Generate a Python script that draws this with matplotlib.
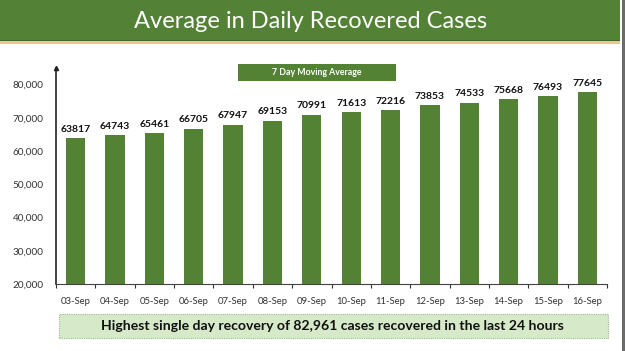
import matplotlib.pyplot as plt
import matplotlib.patches as patches
import numpy as np

# 7 day moving average of recovered cases
dates = ['03-Sep', '04-Sep', '05-Sep', '06-Sep', '07-Sep', '08-Sep', '09-Sep',
         '10-Sep', '11-Sep', '12-Sep', '13-Sep', '14-Sep', '15-Sep', '16-Sep']
avg_recovered = [63817, 64743, 65461, 66705, 67947, 69153, 70991,
                 71613, 72216, 73853, 74533, 75668, 76493, 77645]
yticks = [20000, 30000, 40000, 50000, 60000, 70000, 80000]

title = 'Average in Daily Recovered Cases'
legend_txt = '7 Day Moving Average'
note = 'Highest single day recovery of 82,961 cases recovered in the last 24 hours'

green = '#548235'
W, H = 625, 351

fig = plt.figure(figsize=(W / 100, H / 100), dpi=100)
fig.patch.set_facecolor('white')

def fx(px):
    return px / W

def fy(py):
    return 1 - py / H

# title banner
fig.patches.append(patches.Rectangle((0, fy(40)), fx(620), 40 / H, transform=fig.transFigure,
                                     facecolor='#538135', edgecolor='none'))
fig.patches.append(patches.Rectangle((0, fy(41.5)), fx(620), 1.5 / H, transform=fig.transFigure,
                                     facecolor='#3f6b28', edgecolor='none'))
fig.patches.append(patches.Rectangle((0, fy(43.5)), fx(620), 2 / H, transform=fig.transFigure,
                                     facecolor='#e6c79a', edgecolor='none'))
fig.patches.append(patches.Rectangle((fx(622), 0), fx(3), 1, transform=fig.transFigure,
                                     facecolor='#6b6b6b', edgecolor='none'))
fig.text(fx(311), fy(21), title, color='white', fontsize=17, family='Lato',
         ha='center', va='center')

# main axes
ax = fig.add_axes([fx(56), fy(284), fx(607 - 56), (284 - 68) / H])
x = np.arange(len(dates))
ax.bar(x, avg_recovered, width=0.49, color=green, zorder=2)
ax.set_xlim(-0.5, len(dates) - 0.5)
ax.set_ylim(20000, 85000)

for xi, v in zip(x, avg_recovered):
    ax.text(xi, v + 1300, str(v), ha='center', va='bottom', fontsize=7.5,
            fontweight='bold', family='Lato', color='#111111')

ax.set_yticks(yticks)
ax.set_yticklabels([f'{t:,}' for t in yticks], fontsize=7.2, family='Lato', color='#333333')
ax.tick_params(axis='y', length=0, pad=9)

ax.set_xticks(x)
ax.set_xticklabels(dates, fontsize=6.8, family='Lato', color='#333333')
ax.set_xticks(np.arange(-0.5, len(dates)), minor=True)
ax.tick_params(axis='x', which='major', length=0, pad=9)
ax.tick_params(axis='x', which='minor', length=3, width=0.8, color='#333333')

for s in ['top', 'right']:
    ax.spines[s].set_visible(False)
ax.spines['left'].set_color('#222222')
ax.spines['bottom'].set_color('#444444')
ax.spines['left'].set_linewidth(1.2)
ax.plot(0, 1, marker='^', markersize=3, color='#222222', transform=ax.transAxes,
        clip_on=False)

# legend-like box
fig.patches.append(patches.Rectangle((fx(238), fy(81)), fx(158), 17 / H, transform=fig.transFigure,
                                     facecolor=green, edgecolor='none'))
fig.text(fx(317), fy(72.5), legend_txt, color='white', fontsize=6.3, fontweight='bold',
         family='Lato', ha='center', va='center')

# note box at the bottom
fig.patches.append(patches.Rectangle((fx(59), fy(338)), fx(549), 24 / H, transform=fig.transFigure,
                                     facecolor='#d6e9c8', edgecolor='#9fb98f', linewidth=0.8,
                                     linestyle=(0, (1, 1))))
fig.text(fx(332), fy(326), note, color='#111111', fontsize=10.1, fontweight='bold',
         family='Lato', ha='center', va='center')

fig.savefig('out.png', dpi=100)
